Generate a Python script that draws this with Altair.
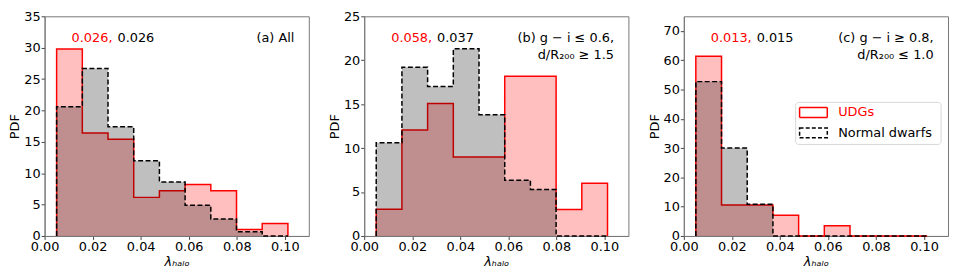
import altair as alt
import pandas as pd

# Bin edges of the histograms (lambda_halo)
edges = [0.0050, 0.0157, 0.0264, 0.0371, 0.0478, 0.0585, 0.0692, 0.0799, 0.0906, 0.1013]

# Panel (a) All
udg_a = [29.8, 16.4, 15.4, 6.15, 7.2, 8.2, 7.2, 1.03, 2.0]
nd_a = [20.6, 26.7, 17.4, 12.0, 8.6, 4.9, 2.7, 0.67, 0.0]
# Panel (b)
udg_b = [3.03, 12.07, 15.07, 9.0, 9.0, 18.17, 18.17, 3.0, 6.0]
nd_b = [10.6, 19.2, 17.0, 21.3, 13.8, 6.35, 5.3, 0.0, 0.0]
# Panel (c)
udg_c = [61.4, 10.6, 10.6, 7.1, 0.0, 3.45, 0.0, 0.0, 0.0]
nd_c = [52.7, 30.0, 10.8, 0.0, 0.0, 0.0, 0.0, 0.0, 0.0]

ymaxes = [35, 25, 75]
ysteps = [5, 5, 10]
median_udg = ["0.026,", "0.058,", "0.013,"]
median_nd = ["0.026", "0.037", "0.015"]
panel_labels = ["(a) All", "(b) g − i ≤  0.6,\nd/R₂₀₀ ≥  1.5", "(c) g − i ≥  0.8,\nd/R₂₀₀ ≤  1.0"]
xticks = [0.0, 0.02, 0.04, 0.06, 0.08, 0.10]

SERIES = ["UDGs", "Normal dwarfs"]
SERIES_COLORS = ["red", "black"]
FONT = "DejaVu Sans"
W, H = 267, 222


def outline_df(vals, name):
    rows = [{"x": edges[0], "y": 0.0}]
    for i, v in enumerate(vals):
        rows.append({"x": edges[i], "y": v})
        rows.append({"x": edges[i + 1], "y": v})
    rows.append({"x": edges[-1], "y": 0.0})
    df = pd.DataFrame(rows)
    df["i"] = range(len(df))
    df["series"] = name
    return df


def fill_df(vals):
    return pd.DataFrame({"x": list(edges), "y": list(vals) + [vals[-1]]})


def legend_layers():
    one = pd.DataFrame({"k": [0]})
    box = alt.Chart(one).mark_rect(fill="white", fillOpacity=0.8, stroke="#d8d8d8",
                                   strokeWidth=1, cornerRadius=3).encode(
        x=alt.value(113), x2=alt.value(260), y=alt.value(87), y2=alt.value(129.5))
    layers = [box]
    for k, (name, col) in enumerate(zip(SERIES, SERIES_COLORS)):
        yc = 97.2 + 20.6 * k
        sym = alt.Chart(one).mark_rect(
            fill="white", stroke=col, strokeWidth=1.5,
            strokeDash=[1, 0] if k == 0 else [4, 2.2],
        ).encode(x=alt.value(117), x2=alt.value(145), y=alt.value(yc - 5), y2=alt.value(yc + 5))
        txt = alt.Chart(one).mark_text(align="left", baseline="middle", fontSize=13,
                                       font=FONT, color=col).encode(
            x=alt.value(156), y=alt.value(yc), text=alt.value(name))
        layers += [sym, txt]
    return layers


def panel(udg, nd, ymax, ystep, t_red, t_black, label, show_legend):
    xs = alt.Scale(domain=[0, 0.11], nice=False, zero=False)
    ys = alt.Scale(domain=[0, ymax], nice=False)
    xax = alt.Axis(values=xticks, format=".2f", title="λₕₐₗₒ", titleFontStyle="italic",
                   labelOverlap=False)
    yax = alt.Axis(values=list(range(0, ymax + 1, ystep)), title="PDF", labelOverlap=False)

    def X(f):
        return alt.X(f, scale=xs, axis=xax)

    def Y(f, **kw):
        return alt.Y(f, scale=ys, axis=yax, **kw)

    def area(vals, col):
        return alt.Chart(fill_df(vals)).mark_area(
            color=col, fillOpacity=0.25, opacity=1, interpolate="step-after"
        ).encode(x=X("x:Q"), y=Y("y:Q", stack=None), y2=alt.datum(0))

    def line(vals, name, col, dash):
        return alt.Chart(outline_df(vals, name)).mark_line(
            strokeWidth=1.5, interpolate="linear", color=col, strokeDash=dash
        ).encode(x=X("x:Q"), y=Y("y:Q"), order="i:Q")

    tx = pd.DataFrame({"x": [0.0293], "y": [0.9 * ymax], "r": [t_red], "b": [t_black],
                       "lx": [0.104], "lab": [label]})
    red_t = alt.Chart(tx).mark_text(align="right", baseline="middle", dx=-2.5, fontSize=13,
                                    font=FONT, color="red").encode(
        x=X("x:Q"), y=Y("y:Q"), text="r:N")
    blk_t = alt.Chart(tx).mark_text(align="left", baseline="middle", dx=2.5, fontSize=13,
                                    font=FONT, color="black").encode(
        x=X("x:Q"), y=Y("y:Q"), text="b:N")
    lab_t = alt.Chart(tx).mark_text(align="right", baseline="middle", fontSize=13, font=FONT,
                                    color="black", lineBreak="\n", lineHeight=16.7).encode(
        x=X("lx:Q"), y=Y("y:Q"), text="lab:N")

    layers = [area(udg, "red"), line(udg, "UDGs", "red", [1, 0]),
              area(nd, "black"), line(nd, "Normal dwarfs", "black", [5, 2.5]),
              red_t, blk_t, lab_t]
    if show_legend:
        layers += legend_layers()
    return alt.layer(*layers).properties(width=W, height=H)


pa = panel(udg_a, nd_a, ymaxes[0], ysteps[0], median_udg[0], median_nd[0], panel_labels[0], False)
pb = panel(udg_b, nd_b, ymaxes[1], ysteps[1], median_udg[1], median_nd[1], panel_labels[1], False)
pc = panel(udg_c, nd_c, ymaxes[2], ysteps[2], median_udg[2], median_nd[2], panel_labels[2], True)

chart = alt.hconcat(pa, pb, pc, spacing=18).properties(
    padding={"left": 0, "top": 0, "right": 0, "bottom": 0}
).configure(font=FONT).configure_view(
    stroke="#777777", strokeWidth=1
).configure_axis(
    grid=False, labelFontSize=13, labelColor="black", labelFont=FONT,
    titleFontSize=13, titleFontWeight="normal", titleColor="black", titleFont=FONT,
    tickSize=3.5, tickColor="#444444", domainColor="#777777", labelPadding=1,
    titlePadding=2, labelOverlap=False, labelFlush=False,
)

chart.save("out.html", embed_options={"renderer": "svg", "actions": False})
